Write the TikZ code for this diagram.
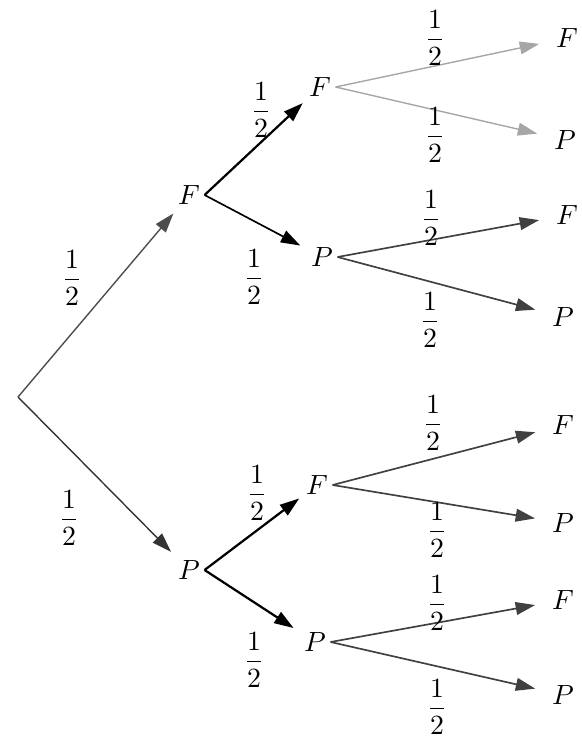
\documentclass[tikz,border=0pt]{standalone}
\usepackage{amsmath}
\usetikzlibrary{arrows.meta}
\begin{document}
\begin{tikzpicture}[x=0.36pt,y=-0.36pt,>={Triangle[length=7pt,width=4.6pt]},
  ev/.style={inner sep=1.5pt},
  pr/.style={inner sep=0pt},
  br/.style={->,draw=black!70,line width=0.5pt,shorten >=1pt},
  brk/.style={->,draw=black,line width=0.8pt,shorten >=1pt},
  brl/.style={->,draw=black!35,line width=0.5pt,shorten >=4.5pt},
  brd/.style={->,draw=black!75,line width=0.6pt,shorten >=4.5pt}]
\useasboundingbox (0,0) rectangle (581,737);
% events
\coordinate (root) at (18,397);
\node[ev] (F) at (189,195) {$F$};
\node[ev] (P) at (189,570) {$P$};
\node[ev] (FF) at (320,87) {$F$};
\node[ev] (FP) at (322,257) {$P$};
\node[ev] (PF) at (317,485) {$F$};
\node[ev] (PP) at (315,642) {$P$};
\node[ev] (FFF) at (567,38) {$F$};
\node[ev] (FFP) at (565,140) {$P$};
\node[ev] (FPF) at (567,215) {$F$};
\node[ev] (FPP) at (563,317) {$P$};
\node[ev] (PFF) at (563,425) {$F$};
\node[ev] (PFP) at (563,523) {$P$};
\node[ev] (PPF) at (563,600) {$F$};
\node[ev] (PPP) at (563,695) {$P$};
% branches
\draw[br,shorten >=2pt] (root) -- (F);
\draw[br,draw=black!80,shorten >=2pt] (root) -- (P);
\draw[brk] (F.east) -- (FF);
\draw[brk,line width=0.6pt,shorten >=2.5pt] (F.east) -- (FP);
\draw[brk] (P.east) -- (PF);
\draw[brk,shorten >=2.5pt] (P.east) -- (PP);
\draw[brl] (FF.east) -- (FFF);
\draw[brl] (FF.east) -- (FFP);
\draw[brd] (FP.east) -- (FPF);
\draw[brd] (FP.east) -- (FPP);
\draw[brd] (PF.east) -- (PFF);
\draw[brd] (PF.east) -- (PFP);
\draw[brd] (PP.east) -- (PPF);
\draw[brd] (PP.east) -- (PPP);
% probabilities
\node[pr] (qF) at (72,278) {$\dfrac{1}{2}$};
\node[pr] (qP) at (69,518) {$\dfrac{1}{2}$};
\node[pr] (qFF) at (261,110) {$\dfrac{1}{2}$};
\node[pr] (qFP) at (254,277) {$\dfrac{1}{2}$};
\node[pr] (qPF) at (257,493) {$\dfrac{1}{2}$};
\node[pr] (qPP) at (254,660) {$\dfrac{1}{2}$};
\node[pr] (qFFF) at (435,38) {$\dfrac{1}{2}$};
\node[pr] (qFFP) at (435,135) {$\dfrac{1}{2}$};
\node[pr] (qFPF) at (431,218) {$\dfrac{1}{2}$};
\node[pr] (qFPP) at (430,320) {$\dfrac{1}{2}$};
\node[pr] (qPFF) at (433,423) {$\dfrac{1}{2}$};
\node[pr] (qPFP) at (437,530) {$\dfrac{1}{2}$};
\node[pr] (qPPF) at (437,603) {$\dfrac{1}{2}$};
\node[pr] (qPPP) at (437,707) {$\dfrac{1}{2}$};
\end{tikzpicture}
\end{document}
